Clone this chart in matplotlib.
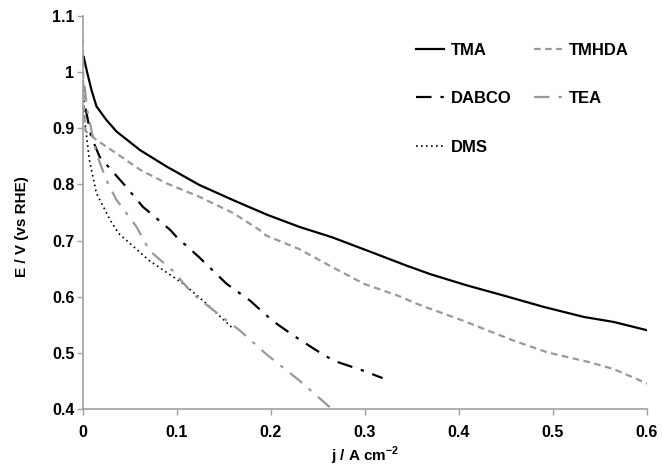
"""
Polarisation curves (E vs j) for the different amine additives.
"""
import matplotlib
matplotlib.use("Agg")
import matplotlib.pyplot as plt

# current density (A cm-2) and potential (V vs RHE) for each additive
tma_j = [0.001, 0.0046, 0.0093, 0.0146, 0.025, 0.036, 0.061, 0.089, 0.124, 0.160, 0.196,
         0.231, 0.265, 0.306, 0.345, 0.370, 0.409, 0.448, 0.490, 0.533, 0.565, 0.601]
tma_e = [1.027, 1.000, 0.968, 0.939, 0.915, 0.894, 0.861, 0.832, 0.799, 0.772, 0.746,
         0.724, 0.706, 0.680, 0.655, 0.640, 0.620, 0.602, 0.582, 0.564, 0.555, 0.540]

tmhda_j = [0.0, 0.001, 0.003, 0.0146, 0.036, 0.061, 0.089, 0.124, 0.160, 0.188, 0.195,
           0.230, 0.263, 0.299, 0.335, 0.356, 0.405, 0.458, 0.494, 0.540, 0.565, 0.601]
tmhda_e = [1.060, 0.940, 0.895, 0.879, 0.855, 0.826, 0.802, 0.778, 0.749, 0.719, 0.709,
           0.685, 0.655, 0.623, 0.602, 0.587, 0.557, 0.522, 0.501, 0.483, 0.471, 0.445]

dabco_j = [0.003, 0.009, 0.018, 0.046, 0.064, 0.093, 0.100, 0.124, 0.153, 0.178, 0.202,
           0.224, 0.249, 0.267, 0.299, 0.319]
dabco_e = [0.935, 0.885, 0.849, 0.796, 0.760, 0.719, 0.706, 0.670, 0.623, 0.593, 0.557,
           0.531, 0.504, 0.486, 0.468, 0.455]

tea_j = [0.002, 0.0046, 0.0146, 0.025, 0.036, 0.057, 0.071, 0.096, 0.117, 0.142, 0.167,
         0.195, 0.231, 0.263, 0.270]
tea_e = [0.975, 0.933, 0.855, 0.808, 0.772, 0.725, 0.682, 0.646, 0.605, 0.572, 0.540,
         0.498, 0.450, 0.403, 0.395]

dms_j = [0.0005, 0.002, 0.007, 0.0146, 0.029, 0.038, 0.071, 0.107, 0.132, 0.160]
dms_e = [0.985, 0.915, 0.844, 0.784, 0.737, 0.713, 0.664, 0.623, 0.587, 0.543]

x_ticks = [0, 0.1, 0.2, 0.3, 0.4, 0.5, 0.6]
x_labels = ["0", "0.1", "0.2", "0.3", "0.4", "0.5", "0.6"]
y_ticks = [0.4, 0.5, 0.6, 0.7, 0.8, 0.9, 1.0, 1.1]
y_labels = ["0.4", "0.5", "0.6", "0.7", "0.8", "0.9", "1", "1.1"]

GREY = "#999999"
AXIS_GREY = "#a0a0a0"

plt.rcParams["font.family"] = ["Liberation Sans", "DejaVu Sans"]
plt.rcParams["font.weight"] = "bold"
plt.rcParams["mathtext.fontset"] = "custom"
plt.rcParams["mathtext.rm"] = "Liberation Sans:bold"
plt.rcParams["mathtext.bf"] = "Liberation Sans:bold"

fig = plt.figure(figsize=(6.62, 4.68), dpi=100)
ax = fig.add_axes([0.125, 0.126, 0.852, 0.840])

ax.plot(tma_j, tma_e, color="black", lw=1.6, label="TMA")
ax.plot(dabco_j, dabco_e, color="black", lw=1.6, dashes=(7, 4, 1.5, 4), label="DABCO")
ax.plot(dms_j, dms_e, color="black", lw=1.2, dashes=(1, 2), label="DMS")
ax.plot(tmhda_j, tmhda_e, color=GREY, lw=1.6, dashes=(3, 2), label="TMHDA")
ax.plot(tea_j, tea_e, color=GREY, lw=1.6, dashes=(7, 4, 1.5, 4), label="TEA")

ax.set_xlim(0, 0.6)
ax.set_ylim(0.4, 1.1)
ax.set_xticks(x_ticks, x_labels)
ax.set_yticks(y_ticks, y_labels)
ax.tick_params(labelsize=11.5, labelcolor="black", color=AXIS_GREY, length=4, width=1)
ax.tick_params(axis="x", pad=7.5)
ax.tick_params(axis="y", pad=2)

for side in ("top", "right"):
    ax.spines[side].set_visible(False)
for side in ("left", "bottom"):
    ax.spines[side].set_color(AXIS_GREY)
    ax.spines[side].set_linewidth(1.2)

ax.set_xlabel("j / A cm$^{\\mathrm{-2}}$", fontsize=11, fontweight="bold")
ax.set_ylabel("E / V (vs RHE)", fontsize=11, fontweight="bold")
ax.xaxis.set_label_coords(0.5, -0.090)
ax.yaxis.set_label_coords(-0.096, 0.463)

ax.legend(ncol=2, frameon=False, loc="upper left",
          bbox_to_anchor=(416 / 662, 1 - 43 / 468), bbox_transform=fig.transFigure,
          borderpad=0, borderaxespad=0, handlelength=1.68, labelspacing=2.0,
          columnspacing=1.32, handletextpad=0.42, prop={"weight": "bold", "size": 12})

fig.savefig("out.png", dpi=100)
